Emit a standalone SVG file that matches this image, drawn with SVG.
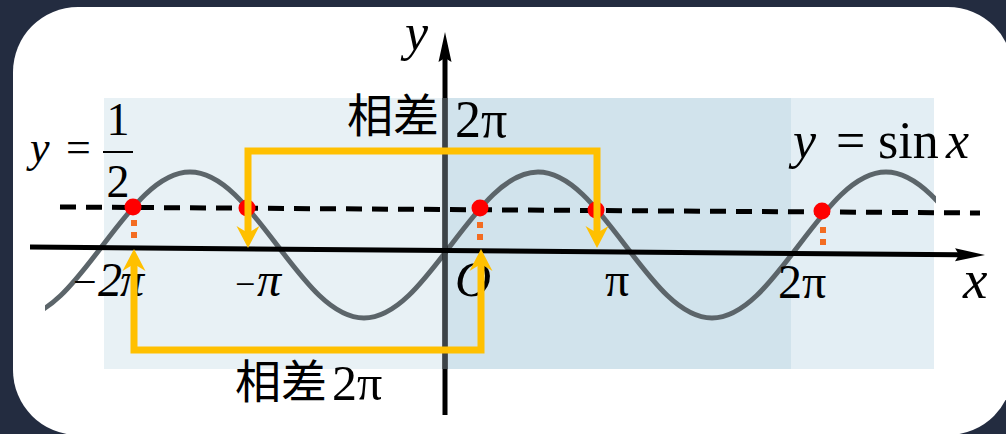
<svg xmlns="http://www.w3.org/2000/svg" width="1006" height="434" viewBox="0 0 1006 434">
<defs>
<style>
.serif{font-family:"Liberation Serif","Times New Roman",serif;fill:#000}
.it{font-style:italic}
.cjk{font-family:"Noto Sans CJK SC","Noto Sans",sans-serif;fill:#000}
.gold{fill:none;stroke:#ffc000;stroke-width:7;stroke-linejoin:miter}
.dots{stroke:#f36c21;stroke-width:6;stroke-dasharray:6 6}
.pt{fill:#ff0000}
</style>
<marker id="goldHead" markerUnits="userSpaceOnUse" markerWidth="24" markerHeight="24" viewBox="0 -12 24 24" refX="14" refY="0" orient="auto-start-reverse">
<path d="M22,0 L0,-11.5 L7,0 L0,11.5 Z" fill="#ffc000"/>
</marker>
<marker id="axisHead" markerUnits="userSpaceOnUse" markerWidth="30" markerHeight="16" viewBox="0 -8 30 16" refX="4" refY="0" orient="auto">
<path d="M30,0 L0,-6.5 L4,0 L0,6.5 Z" fill="#000"/>
</marker>
<clipPath id="curveClip"><rect x="45" y="100" width="891" height="260"/></clipPath>
</defs>
<rect width="1006" height="434" fill="#232c40"/>
<rect x="13" y="7" width="1000" height="428" rx="65" fill="#ffffff"/>
<g id="shading">
<rect x="104" y="98" width="341" height="271" fill="#e8f1f5"/>
<rect x="445" y="98" width="346" height="271" fill="#d1e3ec"/>
<rect x="791" y="98" width="143" height="271" fill="#e3eef4"/>
</g>
<g id="curve" clip-path="url(#curveClip)">
<path d="M16,318 C47.49,318 74.63,282.4 103,245 C131.37,207.6 158.51,172 190,172 C221.49,172 248.63,207.6 277,245 C305.37,282.4 332.51,318 364,318 C395.49,318 422.63,282.4 451,245 C479.37,207.6 506.51,172 538,172 C569.49,172 596.63,207.6 625,245 C653.37,282.4 680.51,318 712,318 C743.49,318 770.63,282.4 799,245 C827.37,207.6 854.51,172 886,172 C917.49,172 944.63,207.6 973,245" fill="none" stroke="#5c656a" stroke-width="5"/>
</g>
<g id="axes">
<line x1="445" y1="415" x2="445" y2="58" stroke="#000" stroke-width="5" marker-end="url(#axisHead)"/>
<line x1="445" y1="98" x2="445" y2="369" stroke="#3c4347" stroke-width="5"/>
<line x1="30" y1="247" x2="959" y2="254.8" stroke="#000" stroke-width="5" marker-end="url(#axisHead)"/>
</g>
<g id="half-line">
<line x1="60" y1="207" x2="980" y2="213" stroke="#000" stroke-width="5" stroke-dasharray="16 10"/>
</g>
<g id="labels">
<text class="serif it" x="405" y="50" font-size="52">y</text>
<text class="serif" y="162" font-size="44"><tspan class="it" x="30">y</tspan><tspan x="66">=</tspan></text>
<text class="serif" x="118" y="135" font-size="46" text-anchor="middle">1</text>
<line x1="103" y1="152" x2="133" y2="152" stroke="#000" stroke-width="2"/>
<text class="serif" x="118" y="197" font-size="46" text-anchor="middle">2</text>
<text class="serif" y="158" font-size="52"><tspan class="it" x="793">y</tspan><tspan x="836">=</tspan><tspan x="878">sin</tspan><tspan class="it" x="946">x</tspan></text>
<text class="serif" x="73" y="296" font-size="42">−</text>
<text class="serif it" y="296" font-size="48"><tspan x="98">2</tspan><tspan x="120">π</tspan></text>
<text class="serif" x="235" y="296" font-size="36">−</text>
<text class="serif it" x="257" y="296" font-size="48">π</text>
<text class="serif it" x="455" y="296" font-size="50">O</text>
<text class="serif" x="605" y="296" font-size="48">π</text>
<text class="serif" x="778" y="298" font-size="48">2π</text>
<text class="serif it" x="963" y="298" font-size="55">x</text>
</g>
<g id="top-note">
<text class="cjk" x="347" y="132" font-size="46">相差</text>
<text class="serif" x="455" y="137" font-size="52">2π</text>
</g>
<g id="bottom-note">
<text class="cjk" x="235" y="398" font-size="46">相差</text>
<text class="serif" x="332" y="400" font-size="50">2π</text>
</g>
<g id="connectors">
<line class="dots" x1="134" y1="220" x2="134" y2="240"/>
<line class="dots" x1="480" y1="222" x2="480" y2="242"/>
<line class="dots" x1="823" y1="227" x2="823" y2="247"/>
<circle class="pt" cx="133" cy="207" r="8.5"/>
<circle class="pt" cx="247" cy="208" r="8.5"/>
<circle class="pt" cx="480" cy="208" r="8.5"/>
<circle class="pt" cx="596" cy="210" r="8.5"/>
<circle class="pt" cx="822" cy="211" r="8.5"/>
<path class="gold" d="M248,240 V151 H597 V240" marker-start="url(#goldHead)" marker-end="url(#goldHead)"/>
<path class="gold" d="M134,257 V350 H481 V257" marker-start="url(#goldHead)" marker-end="url(#goldHead)"/>
</g>
</svg>
